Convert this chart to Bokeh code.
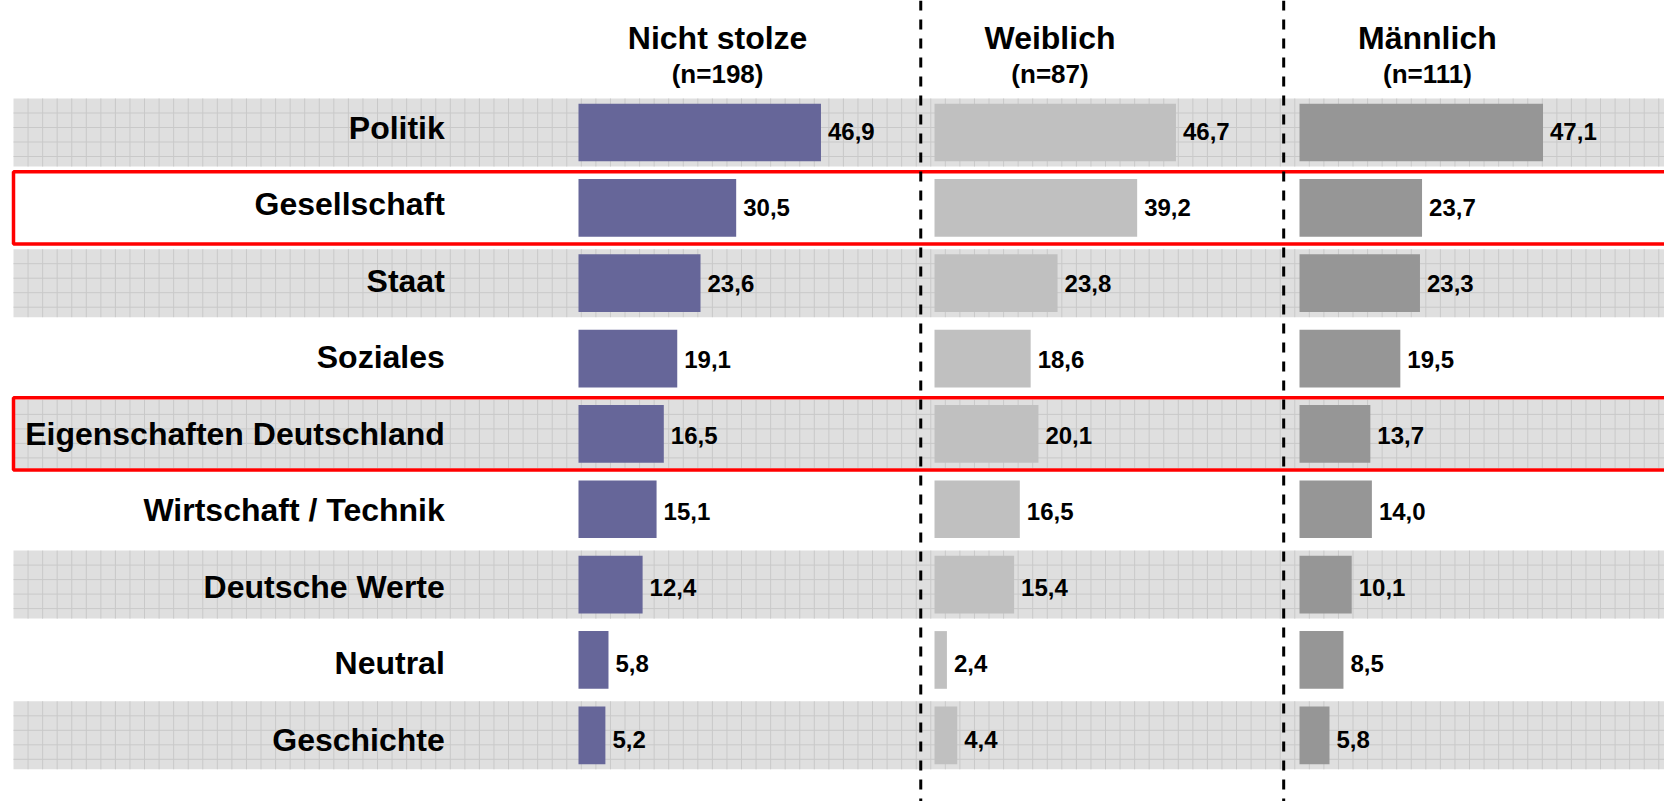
import numpy as np
from bokeh.plotting import figure
from bokeh.models import Range1d, Span, ColumnDataSource
from bokeh.core.properties import value
from bokeh.embed import file_html
from bokeh.resources import INLINE

# ---------------- data ----------------
categories = ["Politik", "Gesellschaft", "Staat", "Soziales",
              "Eigenschaften Deutschland", "Wirtschaft / Technik",
              "Deutsche Werte", "Neutral", "Geschichte"]
nicht_stolze = [46.9, 30.5, 23.6, 19.1, 16.5, 15.1, 12.4, 5.8, 5.2]
weiblich = [46.7, 39.2, 23.8, 18.6, 20.1, 16.5, 15.4, 2.4, 4.4]
maennlich = [47.1, 23.7, 23.3, 19.5, 13.7, 14.0, 10.1, 8.5, 5.8]
series_titles = ["Nicht stolze", "Weiblich", "Männlich"]
series_n = ["(n=198)", "(n=87)", "(n=111)"]
highlighted = ["Gesellschaft", "Eigenschaften Deutschland"]
banded = ["Politik", "Staat", "Eigenschaften Deutschland", "Deutsche Werte", "Geschichte"]

# ---------------- layout ----------------
W, H = 1664, 801
PX_PER_UNIT = 5.17          # pixels per percentage point
ROW_PX = 75.35              # pixels per row
x_start = (0 - 578) / PX_PER_UNIT
x_end = x_start + W / PX_PER_UNIT
y_top = (0 - 132) / ROW_PX
y_bottom = y_top + H / ROW_PX

panel_offsets = [0.0, 68.86, 139.46]
panel_colors = ["#666699", "#C0C0C0", "#969696"]
title_x = [26.9, 91.2, 164.2]
divider_x = [66.2, 136.4]
label_right = -25.86
label_pitch = 76.5 / ROW_PX     # category labels are spaced slightly wider than rows
label_shift = (125.3 - 132) / ROW_PX
value_pitch = 75.9 / ROW_PX
band_left = (13 - 578) / PX_PER_UNIT
band_right = x_end + 20
band_h = 68 / ROW_PX
bar_h = 57.7 / ROW_PX

FONT = value("Liberation Sans")

p = figure(width=W, height=H, x_range=Range1d(x_start, x_end),
           y_range=Range1d(y_bottom, y_top), output_backend="svg",
           toolbar_location=None, min_border=0,
           x_axis_location=None, y_axis_location=None)
p.grid.visible = False
p.outline_line_color = None
p.background_fill_color = "white"
p.border_fill_color = "white"

rows = list(range(len(categories)))
band_rows = [categories.index(c) for c in banded]

# gray gridded bands
p.rect(x=[(band_left + band_right) / 2] * len(band_rows), y=band_rows,
       width=band_right - band_left, height=band_h,
       fill_color="#DFDFDF", line_color=None)

gx0, gy0, gx1, gy1 = [], [], [], []
step_x = 14.56 / PX_PER_UNIT
step_y = 14.5 / ROW_PX
xs = np.arange(band_left + step_x, band_right, step_x)
for r in band_rows:
    top = r - band_h / 2
    bot = r + band_h / 2
    for xv in xs:
        gx0.append(xv); gx1.append(xv); gy0.append(top); gy1.append(bot)
    for k in range(1, 5):
        yv = top + k * step_y
        gx0.append(band_left); gx1.append(band_right); gy0.append(yv); gy1.append(yv)
p.segment(x0=gx0, y0=gy0, x1=gx1, y1=gy1, line_color="#C9C9C9", line_width=1)

# bars and value labels
value_y = [4 + (i - 4) * value_pitch for i in rows]
for vals, off, col in zip([nicht_stolze, weiblich, maennlich], panel_offsets, panel_colors):
    vals = np.array(vals)
    src = ColumnDataSource(dict(
        y=rows, ly=value_y, left=[off] * len(rows), right=off + vals,
        lab=[f"{v:.1f}".replace(".", ",") for v in vals]))
    p.hbar(y="y", left="left", right="right", height=bar_h, source=src,
           fill_color=col, line_color=None)
    p.text(x="right", y="ly", text="lab", source=src, x_offset=7, y_offset=1.5,
           text_baseline="middle", text_align="left", text_font=FONT,
           text_font_style="bold", text_font_size="24px", text_color="black")

# red highlight boxes
hl_rows = [categories.index(c) for c in highlighted]
p.rect(x=[(band_left + band_right + 40) / 2] * len(hl_rows), y=hl_rows,
       width=band_right + 40 - band_left, height=72.3 / ROW_PX,
       fill_color=None, line_color="#FF0000", line_width=3.5)

# dashed dividers
for dx in divider_x:
    p.add_layout(Span(location=dx, dimension="height", line_color="black",
                      line_width=3, line_dash="10 9"))

# category labels
label_y = [label_shift + i * label_pitch for i in rows]
p.text(x=[label_right] * len(categories), y=label_y, text=categories, y_offset=2,
       text_align="right", text_baseline="middle", text_font=FONT,
       text_font_style="bold", text_font_size="32px", text_color="black")

# column titles
p.text(x=title_x, y=[-1.25] * 3, text=series_titles, text_align="center",
       text_baseline="middle", text_font=FONT, text_font_style="bold",
       text_font_size="32px", text_color="black")
p.text(x=title_x, y=[-0.783] * 3, text=series_n, text_align="center",
       text_baseline="middle", text_font=FONT, text_font_style="bold",
       text_font_size="26px", text_color="black")

open("out.html", "w").write(file_html(p, INLINE))
